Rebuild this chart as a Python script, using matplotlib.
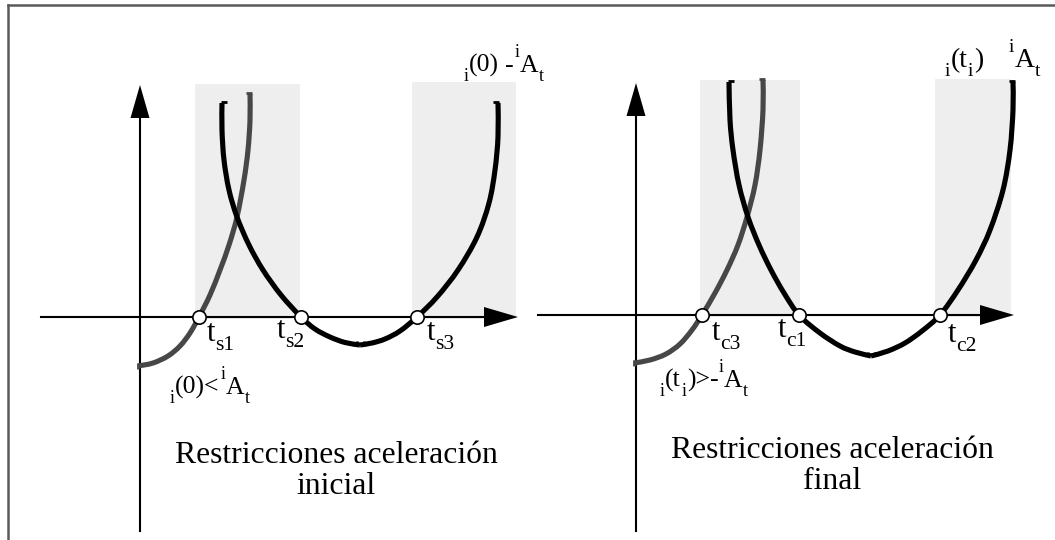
import numpy as np
import matplotlib
matplotlib.use("Agg")
import matplotlib.pyplot as plt
from matplotlib.path import Path
from matplotlib.patches import PathPatch, Polygon, Rectangle
from matplotlib.lines import Line2D
from matplotlib import transforms

# ---------------------------------------------------------------
# Panel 1: initial-acceleration constraints (t, a in drawing units)
s_gray_t = [-0.2, 1.3, 2.8, 4.0, 5.0, 5.9, 7.0, 8.0, 8.9, 9.7, 10.4, 10.8, 11.0, 11.0]
s_gray_a = [-4.9, -4.6, -3.9, -2.9, -1.6, 0.0, 2.2, 4.7, 7.2, 10.0, 13.7, 16.7, 19.7, 22.3]
s_down_t = [8.2, 8.2, 8.4, 8.9, 9.7, 10.9, 12.3, 14.1, 16.1, 17.5, 19.0, 20.5, 22.0]
s_down_a = [21.4, 18.7, 15.7, 12.7, 10.0, 7.2, 4.7, 2.2, 0.0, -1.2, -2.0, -2.55, -2.8]
s_up_t = [22.0, 23.2, 24.5, 26.0, 27.7, 29.7, 31.8, 33.7, 34.9, 35.5, 35.8, 35.8]
s_up_a = [-2.8, -2.6, -2.2, -1.4, 0.0, 2.0, 4.7, 8.0, 11.4, 14.7, 18.0, 21.4]
s_roots = [5.9, 16.1, 27.7]
s_root_labels = ["s1", "s2", "s3"]
s_bands = [(5.5, 16.0, 23.3), (27.2, 37.6, 23.5)]

# Panel 2: final-acceleration constraints
c_gray_t = [-0.2, 1.4, 3.0, 4.4, 5.6, 6.6, 7.9, 9.1, 10.2, 11.1, 11.9, 12.4, 12.7, 12.7]
c_gray_a = [-4.8, -4.5, -3.9, -2.9, -1.5, 0.0, 2.2, 4.5, 7.0, 9.8, 13.0, 16.5, 20.5, 23.5]
c_down_t = [9.3, 9.4, 9.7, 10.3, 11.2, 12.3, 13.5, 14.8, 16.3, 18.4, 20.4, 21.9, 23.5]
c_down_a = [23.3, 19.5, 16.5, 13.0, 9.8, 7.0, 4.5, 2.2, 0.0, -1.8, -3.1, -3.7, -4.1]
c_up_t = [23.5, 25.2, 26.9, 28.6, 30.4, 32.2, 34.0, 35.4, 36.7, 37.4, 37.7, 37.7]
c_up_a = [-4.1, -3.6, -2.8, -1.6, 0.0, 2.5, 5.5, 8.5, 12.5, 16.5, 20.5, 23.3]
c_roots = [6.6, 16.3, 30.4]
c_root_labels = ["c3", "c1", "c2"]
c_bands = [(6.4, 16.4, 23.5), (29.9, 37.5, 23.6)]

s_title = ["Restricciones aceleración", "inicial"]
c_title = ["Restricciones aceleración", "final"]
# ---------------------------------------------------------------

W, H = 1055, 540
DPI = 100
UNIT = 10.0          # pixels per drawing unit on both axes
FONT = "Liberation Serif"
FS_TITLE = 22.8
FS_T = 22.0          # t of the root labels
FS_T_SUB = 15.5
FS_LAB = 18.5        # constraint labels
FS_LAB_SMALL = 13.0
BLACK = "#000000"
GRAY = "#474747"
SHADE = "#eeeeee"

plt.rcParams["font.family"] = FONT

fig = plt.figure(figsize=(W / DPI, H / DPI), dpi=DPI)
fig.patch.set_facecolor("white")
renderer = fig.canvas.get_renderer()


def panel_axes(ox, oy):
    """Full-figure transparent axes whose origin sits at pixel (ox, oy)."""
    ax = fig.add_axes([0, 0, 1, 1])
    ax.set_xlim(-ox / UNIT, (W - ox) / UNIT)
    ax.set_ylim(-(H - oy) / UNIT, oy / UNIT)
    ax.set_axis_off()
    ax.patch.set_alpha(0)
    return ax


def smooth_path(t, a):
    pts = np.column_stack([t, a]).astype(float)
    n = len(pts)
    verts = [pts[0]]
    codes = [Path.MOVETO]
    for i in range(n - 1):
        p0 = pts[i - 1] if i > 0 else pts[i]
        p1, p2 = pts[i], pts[i + 1]
        p3 = pts[i + 2] if i + 2 < n else pts[i + 1]
        verts += [p1 + (p2 - p0) / 6.0, p2 - (p3 - p1) / 6.0, p2]
        codes += [Path.CURVE4] * 3
    return Path(verts, codes)


def draw_curve(ax, t, a, color, z):
    ax.add_patch(PathPatch(smooth_path(t, a), facecolor="none", edgecolor=color,
                           lw=3.7, capstyle="butt", joinstyle="round", zorder=z))


def end_tick(ax, t, a, dx, dy, color, z):
    """Small cap stroke at a curve end, offset given in drawing units."""
    ax.add_line(Line2D([t, t + dx], [a, a + dy], color=color, lw=2.0,
                       solid_capstyle="butt", zorder=z))


def rich_text(ax, x, y, pieces, size, small, sub_dy=-6.5, sup_dy=10.5, gap=0.3):
    """Draw text pieces in sequence: 'n' normal, 'sub', 'sup', or 'sp' (a gap in points)."""
    dx = 0.0
    for s, kind in pieces:
        if kind == "sp":
            dx += s
            continue
        fs = size if kind == "n" else small
        dy = {"n": 0.0, "sub": sub_dy, "sup": sup_dy}[kind]
        tr = transforms.offset_copy(ax.transData, fig=fig, x=dx, y=dy, units="points")
        txt = ax.text(x, y, s, transform=tr, fontsize=fs, family=FONT,
                      va="baseline", ha="left", zorder=8)
        bb = txt.get_window_extent(renderer)
        dx += bb.width * 72.0 / DPI + gap


def draw_axes_arrows(ax, x0, x1, y0, y1):
    ax.add_line(Line2D([x0, x1 - 2.0], [0, 0], color=BLACK, lw=1.5, zorder=2))
    ax.add_patch(Polygon([[x1, 0], [x1 - 3.4, 1.0], [x1 - 3.4, -1.0]], closed=True,
                         facecolor=BLACK, edgecolor="none", zorder=2))
    ax.add_line(Line2D([0, 0], [y0, y1 - 2.0], color=BLACK, lw=1.5, zorder=2))
    ax.add_patch(Polygon([[0, y1], [-0.95, y1 - 3.3], [0.95, y1 - 3.3]], closed=True,
                         facecolor=BLACK, edgecolor="none", zorder=2))


def draw_panel(ax, bands, gray_t, gray_a, down_t, down_a, up_t, up_a,
               roots, root_labels, root_label_pos, x_range, y_range):
    for b0, b1, top in bands:
        ax.add_patch(Rectangle((b0, -0.2), b1 - b0, top + 0.2, facecolor=SHADE,
                               edgecolor="none", zorder=1))
    draw_axes_arrows(ax, x_range[0], x_range[1], y_range[0], y_range[1])
    draw_curve(ax, gray_t, gray_a, GRAY, 3)
    draw_curve(ax, down_t, down_a, BLACK, 4)
    draw_curve(ax, up_t, up_a, BLACK, 4)
    # stroke caps at the curve ends
    end_tick(ax, gray_t[0], gray_a[0] - 0.25, 0, 0.55, GRAY, 3)
    end_tick(ax, gray_t[-1] + 0.15, gray_a[-1] + 0.1, -0.6, 0, GRAY, 3)
    end_tick(ax, down_t[0] - 0.15, down_a[0] + 0.1, 0.6, 0, BLACK, 4)
    end_tick(ax, down_t[-1] - 0.35, down_a[-1], 0, 0.45, BLACK, 4)
    end_tick(ax, up_t[0] + 0.35, up_a[0], 0, 0.45, BLACK, 4)
    end_tick(ax, up_t[-1] + 0.15, up_a[-1] + 0.1, -0.6, 0, BLACK, 4)
    ax.plot(roots, [0] * len(roots), "o", ms=9.6, mfc="white", mec=BLACK,
            mew=1.2, zorder=6)
    for (lx, ly), lab in zip(root_label_pos, root_labels):
        rich_text(ax, lx, ly, [("t", "n"), (lab, "sub")], FS_T, FS_T_SUB,
                  sub_dy=-6.5, gap=0.0)


# Left panel
ax1 = panel_axes(140, 317)
draw_panel(ax1, s_bands, s_gray_t, s_gray_a, s_down_t, s_down_a, s_up_t, s_up_a,
           s_roots, s_root_labels,
           [(6.7, -2.4), (13.7, -2.1), (28.7, -2.3)],
           (-9.9, 37.8), (-21.4, 23.2))
rich_text(ax1, 3.0, -7.7, [("i", "sub"), ("(0)<", "n"), ("i", "sup"), ("A", "n"),
                           ("t", "sub")], FS_LAB, FS_LAB_SMALL)
rich_text(ax1, 32.4, 24.5, [("i", "sub"), ("(0)", "n"), (4.0, "sp"), ("-", "n"),
                            ("i", "sup"), ("A", "n"), ("t", "sub")], FS_LAB, FS_LAB_SMALL)
ax1.text(19.6, -14.6, s_title[0], fontsize=FS_TITLE, ha="center", va="baseline", zorder=8)
ax1.text(19.6, -17.7, s_title[1], fontsize=FS_TITLE, ha="center", va="baseline", zorder=8)

# Right panel
ax2 = panel_axes(636, 315)
draw_panel(ax2, c_bands, c_gray_t, c_gray_a, c_down_t, c_down_a, c_up_t, c_up_a,
           c_roots, c_root_labels,
           [(7.6, -2.5), (14.2, -2.2), (31.2, -2.7)],
           (-9.8, 37.8), (-21.6, 23.2))
rich_text(ax2, 2.4, -7.2, [("i", "sub"), ("(t", "n"), ("i", "sub"), (")>-", "n"),
                           ("i", "sup"), ("A", "n"), ("t", "sub")], FS_LAB, FS_LAB_SMALL)
rich_text(ax2, 30.9, 24.8, [("i", "sub"), ("(t", "n"), ("i", "sub"), (")", "n"),
                            (18.0, "sp"), ("i", "sup"), ("A", "n"), ("t", "sub")],
          20.0, 14.0)
ax2.text(19.6, -14.3, c_title[0], fontsize=FS_TITLE, ha="center", va="baseline", zorder=8)
ax2.text(19.6, -17.4, c_title[1], fontsize=FS_TITLE, ha="center", va="baseline", zorder=8)

# Outer frame (top and left edges)
fig.add_artist(Line2D([8 / W, 8 / W], [0, 1 - 5 / H], transform=fig.transFigure,
                      color="#5a5a5a", lw=1.8))
fig.add_artist(Line2D([8 / W, 1], [1 - 5 / H, 1 - 5 / H], transform=fig.transFigure,
                      color="#5a5a5a", lw=1.8))

fig.savefig("out.png", dpi=DPI, facecolor="white")
